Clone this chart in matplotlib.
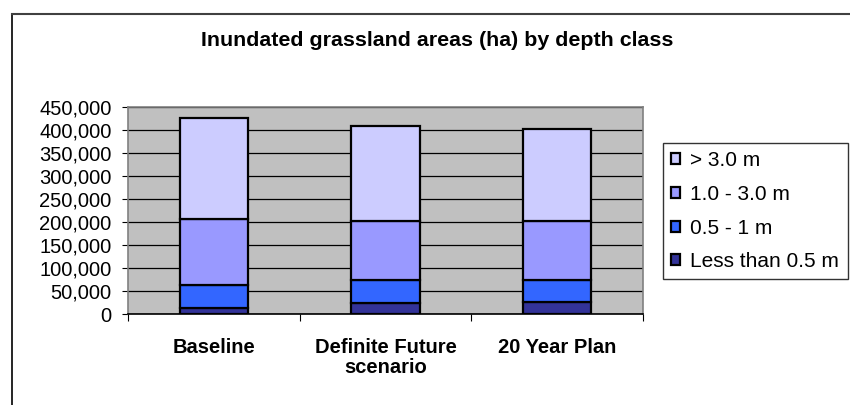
import matplotlib.pyplot as plt
from matplotlib.lines import Line2D
from matplotlib.ticker import FuncFormatter, MultipleLocator

plt.rcParams['font.family'] = ['Liberation Sans', 'DejaVu Sans']

categories = ['Baseline', 'Definite Future\nscenario', '20 Year Plan']
less_05 = [13000, 25000, 26000]
from_05_1 = [51000, 49000, 49000]
from_1_3 = [142000, 129000, 127000]
over_3 = [221000, 206000, 201000]

series = [
    ('Less than 0.5 m', less_05, '#333399'),
    ('0.5 - 1 m', from_05_1, '#3366FF'),
    ('1.0 - 3.0 m', from_1_3, '#9999FF'),
    ('> 3.0 m', over_3, '#CCCCFF'),
]

fig = plt.figure(figsize=(8.5, 4.05), dpi=100)
ax = fig.add_axes([128 / 850, 91 / 405, 515 / 850, 207 / 405])
ax.set_facecolor('#C0C0C0')

x = range(len(categories))
bottom = [0] * len(categories)
handles = []
for label, vals, color in series:
    bars = ax.bar(x, vals, 0.4, bottom=bottom, color=color,
                  edgecolor='black', linewidth=1.6, label=label, zorder=3)
    handles.append(bars)
    bottom = [b + v for b, v in zip(bottom, vals)]

ax.set_xlim(-0.5, 2.5)
ax.set_ylim(0, 450000)
ax.yaxis.set_major_locator(MultipleLocator(50000))
ax.yaxis.set_major_formatter(FuncFormatter(lambda v, p: f'{int(v):,}'))
ax.grid(axis='y', color='black', linewidth=0.9, zorder=1)

ax.set_xticks([-0.5, 0.5, 1.5, 2.5], minor=False)
ax.set_xticklabels([])
ax.set_xticks(list(x), minor=True)
ax.set_xticklabels(categories, minor=True, fontsize=14.5, fontweight='bold',
                   linespacing=1.1)
ax.tick_params(axis='x', which='minor', length=0, pad=17)
ax.tick_params(axis='x', which='major', length=5, direction='out', color='black')
ax.tick_params(axis='y', length=4.3, direction='out', labelsize=14.5, pad=7.5)

for s in ['top', 'right', 'left']:
    ax.spines[s].set_color('#808080')
    ax.spines[s].set_linewidth(1.2)
ax.spines['bottom'].set_color('black')
ax.spines['bottom'].set_linewidth(1.2)

fig.text(437 / 850, 1 - 41 / 405, 'Inundated grassland areas (ha) by depth class',
         ha='center', va='center', fontsize=15.4, fontweight='bold')

leg = fig.legend(handles[::-1], [s[0] for s in series][::-1],
                 loc='upper left', bbox_to_anchor=(663 / 850, 1 - 143 / 405),
                 fontsize=15, frameon=True, fancybox=False, handlelength=0.43,
                 handleheight=0.43, handletextpad=0.48, labelspacing=0.7,
                 borderpad=0.4, borderaxespad=0)
leg.get_frame().set_edgecolor('black')
leg.get_frame().set_linewidth(1.0)

# outer chart border (right and bottom fall outside the image)
fig.add_artist(Line2D([11.5 / 850, 11.5 / 850], [0, 1 - 14 / 405], color='black', lw=1.2))
fig.add_artist(Line2D([11.5 / 850, 1], [1 - 14 / 405, 1 - 14 / 405], color='#404040', lw=1.5))

fig.savefig('out.png', dpi=100)
